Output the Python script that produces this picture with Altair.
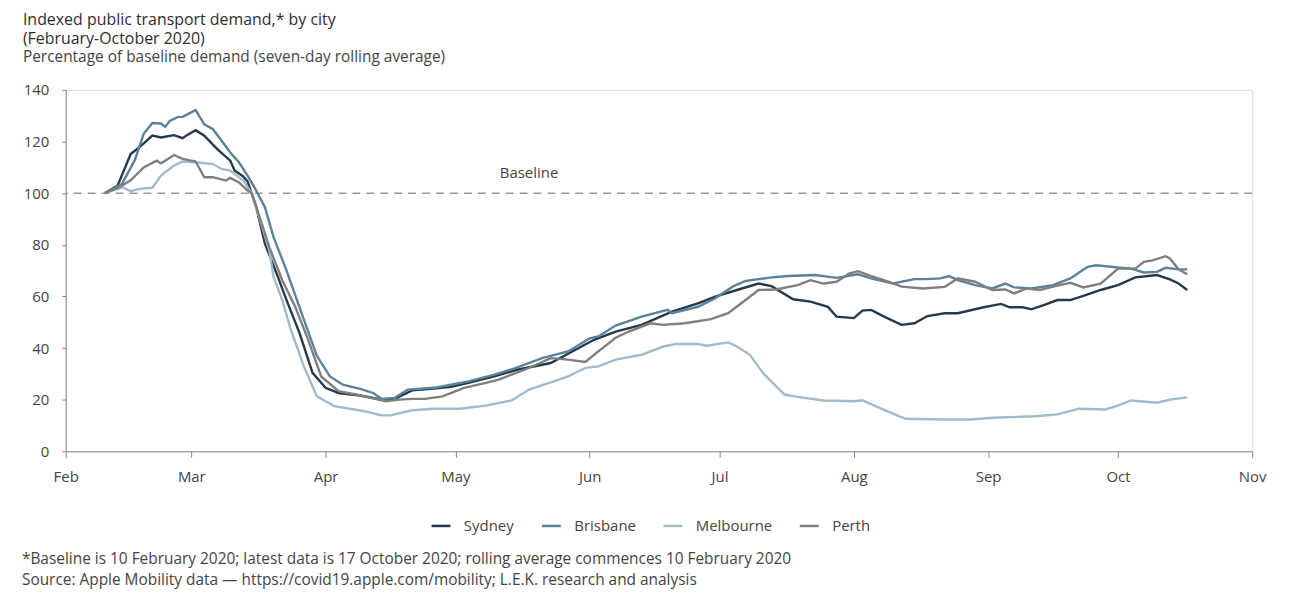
import altair as alt
import pandas as pd

cities = ["Sydney", "Brisbane", "Melbourne", "Perth"]
colors = ["#24394a", "#5b829b", "#a2bac9", "#7f7f7f"]

sydney_dates = ["2020-02-10","2020-02-13","2020-02-16","2020-02-18","2020-02-21","2020-02-23","2020-02-26","2020-02-28","2020-02-29",
                "2020-03-02","2020-03-04","2020-03-07","2020-03-10","2020-03-11","2020-03-13","2020-03-14","2020-03-16","2020-03-18",
                "2020-03-21","2020-03-23","2020-03-26","2020-03-29","2020-04-01","2020-04-04","2020-04-09","2020-04-14","2020-04-17",
                "2020-04-21","2020-04-26","2020-04-30","2020-05-04","2020-05-10","2020-05-15","2020-05-23","2020-06-02","2020-06-07",
                "2020-06-13","2020-06-20","2020-06-26","2020-06-30","2020-07-05","2020-07-10","2020-07-13","2020-07-18","2020-07-22",
                "2020-07-26","2020-07-28","2020-08-01","2020-08-03","2020-08-05","2020-08-08","2020-08-12","2020-08-15","2020-08-18",
                "2020-08-22","2020-08-25","2020-08-31","2020-09-04","2020-09-06","2020-09-09","2020-09-11","2020-09-14","2020-09-17",
                "2020-09-20","2020-09-23","2020-09-27","2020-10-01","2020-10-05","2020-10-10","2020-10-13","2020-10-15","2020-10-17"]
sydney_values = [100,103,115.2,117.8,122.3,121.6,122.5,121.3,122.5,
                 124.4,122.3,117.1,112.6,108.8,106.5,104.5,94.6,80.5,
                 67.6,58.6,45.8,30.4,24.6,22.6,21.6,20,20.3,
                 23.6,24.3,25,26.5,29,31.5,34.2,43.2,46.4,
                 49,54.1,57.3,59.9,62.5,65,64,58.9,58,
                 56,52.2,51.6,54.5,54.8,52.2,49,49.6,52.4,
                 53.5,53.5,55.8,57.1,55.8,55.8,55,56.7,58.6,
                 58.6,60.2,62.5,64.4,67.4,68.3,66.6,65,62.5]

brisbane_dates = ["2020-02-10","2020-02-14","2020-02-17","2020-02-19","2020-02-21","2020-02-23","2020-02-24","2020-02-25","2020-02-27",
                  "2020-02-28","2020-03-02","2020-03-04","2020-03-06","2020-03-08","2020-03-10","2020-03-12","2020-03-14","2020-03-16",
                  "2020-03-18","2020-03-20","2020-03-23","2020-03-27","2020-03-30","2020-04-02","2020-04-05","2020-04-09","2020-04-12",
                  "2020-04-14","2020-04-17","2020-04-20","2020-04-26","2020-04-30","2020-05-04","2020-05-10","2020-05-15","2020-05-21",
                  "2020-05-27","2020-06-01","2020-06-03","2020-06-07","2020-06-13","2020-06-19","2020-06-20","2020-06-26","2020-06-30",
                  "2020-07-04","2020-07-07","2020-07-13","2020-07-17","2020-07-23","2020-07-28","2020-08-02","2020-08-05","2020-08-10",
                  "2020-08-15","2020-08-18","2020-08-21","2020-08-23","2020-08-25","2020-08-29","2020-09-02","2020-09-05","2020-09-07",
                  "2020-09-11","2020-09-16","2020-09-20","2020-09-24","2020-09-26","2020-10-01","2020-10-04","2020-10-07","2020-10-10",
                  "2020-10-12","2020-10-15","2020-10-17"]
brisbane_values = [100,103.6,113,123,127.2,127,125.7,128,129.6,
                   129.6,132.2,126.7,124.8,120.3,115.8,112,106.8,101,
                   94.6,83,70,51,37,29,25.8,24.2,22.6,
                   20.3,20.7,23.9,24.6,25.8,27.1,29.7,32.3,36.1,
                   38.7,43.8,44.5,48.7,52.2,54.8,53.5,56,59.3,
                   63.8,66,67.4,67.9,68.3,67.2,68.6,67,65,
                   66.7,66.7,67,67.9,66.3,64.4,63.1,65,63.5,
                   63.1,64.4,67,71.5,72.1,71.2,70.8,69.3,69.5,
                   71.1,70.5,70.5]

melbourne_dates = ["2020-02-10","2020-02-14","2020-02-16","2020-02-18","2020-02-21","2020-02-23","2020-02-26","2020-02-28","2020-03-02",
                   "2020-03-06","2020-03-08","2020-03-10","2020-03-13","2020-03-15","2020-03-19","2020-03-20","2020-03-22","2020-03-24",
                   "2020-03-27","2020-03-30","2020-04-03","2020-04-10","2020-04-14","2020-04-16","2020-04-21","2020-04-26","2020-05-02",
                   "2020-05-08","2020-05-14","2020-05-18","2020-05-23","2020-05-27","2020-05-31","2020-06-03","2020-06-07","2020-06-13",
                   "2020-06-18","2020-06-21","2020-06-26","2020-06-28","2020-07-03","2020-07-05","2020-07-08","2020-07-11","2020-07-16",
                   "2020-07-19","2020-07-25","2020-08-01","2020-08-03","2020-08-06","2020-08-11","2020-08-13","2020-08-22","2020-08-28",
                   "2020-09-02","2020-09-12","2020-09-17","2020-09-22","2020-09-28","2020-10-01","2020-10-04","2020-10-10","2020-10-13",
                   "2020-10-17"]
melbourne_values = [100,102.3,100.8,101.7,102.1,106.8,110.7,112.3,112,
                    111.3,109.4,108.8,104.9,99.8,77.9,67.6,58.6,47,
                    32.9,21.3,17.5,15.5,13.9,13.9,15.9,16.5,16.5,
                    17.7,19.7,23.9,26.7,29,32.3,32.9,35.5,37.4,
                    40.6,41.6,41.6,40.9,42.2,40.6,37.4,30.4,22,
                    21.1,19.7,19.4,19.8,17.5,13.9,12.6,12.3,12.3,
                    13,13.6,14.3,16.5,16.2,17.7,19.7,18.8,20,
                    20.9]

perth_dates = ["2020-02-10","2020-02-13","2020-02-16","2020-02-19","2020-02-22","2020-02-23","2020-02-26","2020-02-28","2020-03-02",
               "2020-03-04","2020-03-06","2020-03-09","2020-03-10","2020-03-12","2020-03-14","2020-03-15","2020-03-19","2020-03-22",
               "2020-03-25","2020-03-28","2020-03-31","2020-04-04","2020-04-08","2020-04-15","2020-04-18","2020-04-21","2020-04-24",
               "2020-04-28","2020-05-03","2020-05-08","2020-05-11","2020-05-17","2020-05-23","2020-05-27","2020-05-31","2020-06-03",
               "2020-06-07","2020-06-10","2020-06-15","2020-06-18","2020-06-23","2020-06-29","2020-07-03","2020-07-07","2020-07-10",
               "2020-07-14","2020-07-19","2020-07-22","2020-07-25","2020-07-28","2020-07-31","2020-08-02","2020-08-05","2020-08-09",
               "2020-08-12","2020-08-17","2020-08-22","2020-08-25","2020-08-29","2020-09-02","2020-09-05","2020-09-07","2020-09-10",
               "2020-09-13","2020-09-16","2020-09-20","2020-09-23","2020-09-27","2020-10-01","2020-10-05","2020-10-07","2020-10-09",
               "2020-10-12","2020-10-13","2020-10-15","2020-10-17"]
perth_values = [100,102,105,110,112.6,111.6,114.8,113.3,112.3,
                106.2,106.2,104.9,105.9,104.2,101,100,79.2,66.3,
                56,43.2,29,23.3,22,19.4,20,20.3,20.3,
                21.3,24.6,26.5,27.8,31.6,36.1,35.5,34.6,38.7,
                44,46.4,49.6,49,49.6,51.2,53.5,58.6,62.5,
                62.7,64.4,66.3,65,65.7,68.9,69.8,67.9,65.7,
                63.8,63.1,63.7,67,65.7,62.5,62.7,61.2,63.1,
                62.5,63.8,65.3,63.5,65,70.8,70.8,73.4,74,
                75.6,74.7,70.5,68.6]

series = {
    "Sydney": (sydney_dates, sydney_values),
    "Brisbane": (brisbane_dates, brisbane_values),
    "Melbourne": (melbourne_dates, melbourne_values),
    "Perth": (perth_dates, perth_values),
}

rows = []
for city, (ds, vs) in series.items():
    for d, v in zip(ds, vs):
        rows.append({"city": city, "date": d, "value": v})
df = pd.DataFrame(rows)

y_ticks = [0, 20, 40, 60, 80, 100, 120, 140]
baseline_value = 100
baseline_label = "Baseline"
baseline_label_date = "2020-05-18"
footnote1 = "*Baseline is 10 February 2020; latest data is 17 October 2020; rolling average commences 10 February 2020"
footnote2 = "Source: Apple Mobility data \u2014 https://covid19.apple.com/mobility; L.E.K. research and analysis"

FONT = "Open Sans"

lines = alt.Chart(df).mark_line(strokeWidth=2.4, interpolate="linear").encode(
    x=alt.X("date:T",
            scale=alt.Scale(domain=["2020-02-01", "2020-11-01"]),
            axis=alt.Axis(title=None, format="%b", tickCount={"interval": "month", "step": 1},
                          grid=False, domainColor="#888", tickColor="#888", tickSize=6,
                          labelFontSize=15, labelColor="#444", labelPadding=12, labelFont=FONT,
                          labelFlush=False)),
    y=alt.Y("value:Q",
            scale=alt.Scale(domain=[0, 140]),
            axis=alt.Axis(title=None, values=y_ticks, grid=False, domainColor="#888", tickColor="#888",
                          tickSize=4, labelFontSize=15, labelColor="#444", labelPadding=13, labelFont=FONT)),
    color=alt.Color("city:N",
                    scale=alt.Scale(domain=cities, range=colors),
                    sort=cities,
                    legend=alt.Legend(title=None, orient="none", direction="horizontal",
                                      legendX=366, legendY=427, symbolType="stroke",
                                      symbolStrokeWidth=2.5, symbolSize=360, labelFontSize=15,
                                      labelColor="#444", labelFont=FONT, columnPadding=22,
                                      labelOffset=12, padding=0)),
    order=alt.Order("date:T"),
)

rule = alt.Chart(pd.DataFrame({"y": [baseline_value]})).mark_rule(
    color="#999", strokeWidth=1.6, strokeDash=[8, 6]
).encode(y="y:Q")

base_text = alt.Chart(pd.DataFrame({"date": [baseline_label_date], "y": [baseline_value], "t": [baseline_label]})).mark_text(
    fontSize=15, color="#444", font=FONT, baseline="bottom", dy=-12
).encode(x="date:T", y="y:Q", text="t:N")

fn1 = alt.Chart(pd.DataFrame({"t": [footnote1]})).mark_text(
    fontSize=15.5, color="#444", font=FONT, align="left", baseline="middle"
).encode(x=alt.value(-44), y=alt.value(471), text="t:N")

fn2 = alt.Chart(pd.DataFrame({"t": [footnote2]})).mark_text(
    fontSize=15.5, color="#444", font=FONT, align="left", baseline="middle"
).encode(x=alt.value(-44), y=alt.value(492), text="t:N")

chart = alt.layer(rule, lines, base_text, fn1, fn2).properties(
    width=1192, height=363,
    autosize=alt.AutoSizeParams(type="none"),
    padding={"left": 58, "top": 81, "right": 40, "bottom": 140},
    title=alt.Title(
        text=["Indexed public transport demand,* by city", "(February-October 2020)"],
        subtitle="Percentage of baseline demand (seven-day rolling average)",
        anchor="start", frame="group", dx=-43, offset=18,
        font=FONT, fontSize=16, fontWeight="normal", color="#2e2e2e", lineHeight=19,
        subtitleFont=FONT, subtitleFontSize=15.5, subtitleColor="#444", subtitlePadding=3,
    ),
).configure_view(stroke=None).configure(background="white")

chart.save("out.html", embed_options={"renderer": "svg", "actions": False})
